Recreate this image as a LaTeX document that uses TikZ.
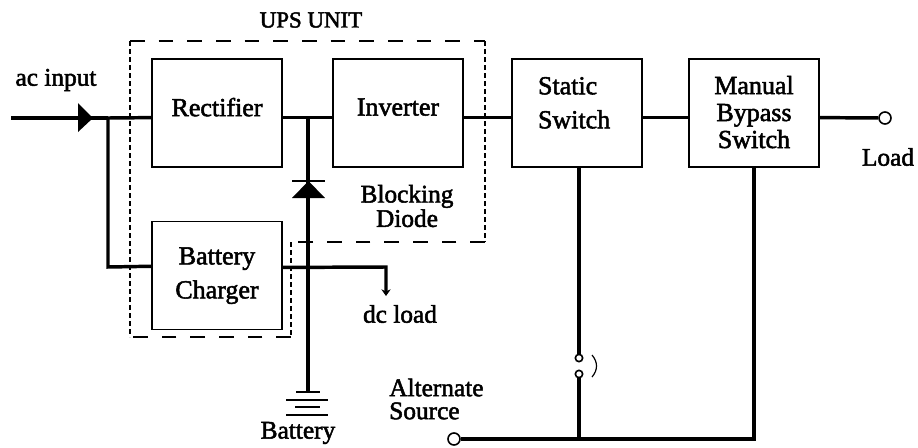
\documentclass[tikz,border=0pt]{standalone}
\usepackage{fontspec}
\newfontfamily\lblfont{Liberation Serif}[RawFeature={embolden=2}]
\usetikzlibrary{arrows.meta}
\begin{document}
\begin{tikzpicture}[x=0.75pt,y=-0.75pt,node distance=135pt,
            main node/.style={draw,line width=1.4pt,minimum width=97.5pt,minimum height=81pt,inner sep=0pt,align=center,font=\lblfont\fontsize{19.5}{25.5}\selectfont},
            text node/.style={inner sep=0pt,align=center,font=\lblfont\fontsize{19}{17.25}\selectfont},
            end node/.style={draw,circle,line width=1.2pt,fill=white,inner sep=0pt,minimum size=9pt},
            sw node/.style={draw,circle,line width=1.2pt,fill=white,inner sep=0pt,minimum size=5.5pt},
            wire/.style={line width=2.6pt},
            bar/.style={line width=1.3pt},
            long dash/.style={line width=1pt,dash pattern=on 11pt off 10.5pt},
            short dash/.style={line width=1pt,dash pattern=on 3.5pt off 2.5pt}]

        \useasboundingbox (0,0) rectangle (918,447);

        % Define blocks
        \node[main node,text depth=9pt] (rectifier) at (217,113) {Rectifier};
        \node[main node,text depth=9pt] (inverter) [right of=rectifier,node distance=135.75pt] {Inverter};
        \node[main node,inner xsep=19.5pt,text width=58.5pt,minimum width=0pt,align=left,text depth=41pt] (static) [right of=inverter,node distance=134.25pt] {Static\\Switch};
        \node[main node,font=\lblfont\fontsize{19.5}{20.25}\selectfont,text depth=1.5pt] (manual) [right of=static,node distance=132.75pt] {Manual\\Bypass\\Switch};
        \node[main node,text depth=4pt] (charger) [below of=rectifier,node distance=121.9pt] {Battery\\Charger};

        % Define ends and junctions
        \coordinate (acin) at (11,118);
        \coordinate (tap) at (108,118);
        \coordinate (tapdown) at (108,267);
        \coordinate (dcnode) at (308,118);
        \coordinate (batttop) at (308,392);
        \coordinate (dcbend) at (386,267);
        \coordinate (dcend) at (386,296);
        \coordinate (staticdown) at (579,167);
        \coordinate (altstatic) at (579,439);
        \coordinate (altmanual) at (754,439);
        \coordinate (manualdown) at (754,167);
        \node[end node] (load) at (885,118) {};
        \node[end node] (alt) at (454,439) {};
        \node[sw node] (swtop) at (579,358) {};
        \node[sw node] (swbot) at (579,374) {};

        % Draw edges
        \draw[wire] (acin) -- (tap);
        \draw[wire] (tap) -- (rectifier.184.4);
        \draw[wire] (tap) -- (tapdown) -- (charger.172.55);
        \draw[wire] (rectifier.-4.4) -- (inverter.184.4);
        \draw[wire] (inverter.-4.4) -- (static.184.4);
        \draw[wire] (static.-4.4) -- (manual.184.4);
        \draw[wire] (manual.-4.4) -- (load);
        \draw[wire] (dcnode) -- (batttop);
        \draw[wire] (staticdown) -- (swtop);
        \draw[wire] (swbot) -- (altstatic);
        \draw[wire] (alt) -- (altmanual) -- (manualdown);
        \draw[wire,-{Stealth[length=5pt,width=7pt]}] (charger.7.45) -- (dcbend) -- (dcend);

        % Input arrow and diode
        \fill (78,103) -- (93,118) -- (78,132) -- cycle;
        \fill (308.5,181) -- (325,198) -- (292,198) -- cycle;
        \draw[bar] (292,181) -- (325,181);

        % Battery plates
        \draw[bar] (296,392) -- (320,392);
        \draw[bar] (286,400) -- (328,400);
        \draw[bar] (295,407) -- (320,407);
        \draw[bar] (286,415) -- (328,415);

        % Switch bracket
        \draw[line width=0.9pt] (592,355) .. controls (598,362) and (598,370) .. (592,377);

        % UPS outline
        \draw[long dash] (130,41) -- (485,41);
        \draw[long dash] (485,242) -- (291,242);
        \draw[long dash] (291,337) -- (130,337);
        \draw[short dash] (130,41) -- (130,337);
        \draw[short dash] (485,41) -- (485,242);
        \draw[short dash] (291,242) -- (291,337);

        % Labels
        \node[text node,font=\lblfont\fontsize{17.2}{17.25}\selectfont] (upsunit) at (311,20) {UPS UNIT};
        \node[text node] (acinput) at (56,80) {ac input};
        \node[text node] (blocking) at (407,206) {Blocking\\Diode};
        \node[text node] (dcload) at (400,314) {dc load};
        \node[text node,align=left,anchor=west] (altsource) at (389,399) {Alternate\\Source};
        \node[text node] (battery) at (298,433) {Battery};
        \node[text node] (loadtext) at (888,157) {Load};

\end{tikzpicture}
\end{document}
